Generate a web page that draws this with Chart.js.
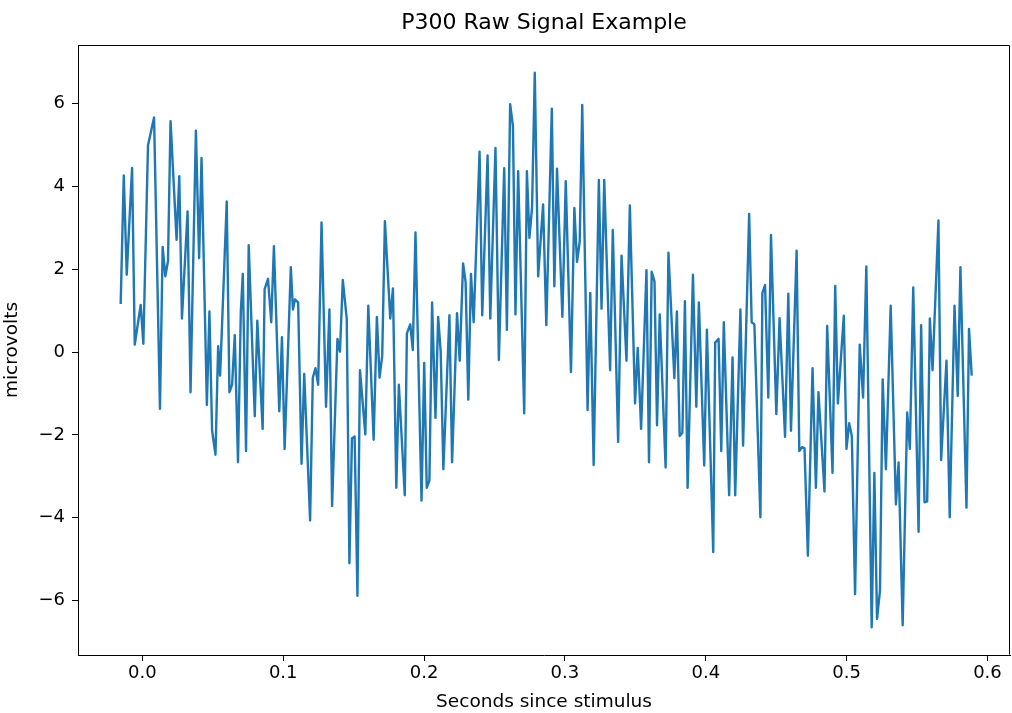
<!DOCTYPE html>
<html>
<head>
<meta charset="utf-8">
<title>P300 Raw Signal Example</title>
<script src="https://cdn.jsdelivr.net/npm/chart.js@4.4.1/dist/chart.umd.min.js"></script>
<style>
  html, body { margin: 0; padding: 0; background: #fff; }
  canvas { display: block; }
</style>
</head>
<body>
<canvas id="p300Chart" width="1012" height="713"></canvas>
<script>
// seconds since stimulus (turning points of the trace)
const times = [
  -0.0154, -0.0132, -0.0111, -0.0073, -0.0054, -0.0012, 0.0007, 0.0040, 0.0083, 0.0125,
  0.0144, 0.0163, 0.0182, 0.0200, 0.0243, 0.0262, 0.0281, 0.0321, 0.0342, 0.0380,
  0.0403, 0.0420, 0.0458, 0.0476, 0.0495, 0.0519, 0.0538, 0.0552, 0.0599, 0.0618,
  0.0637, 0.0656, 0.0679, 0.0699, 0.0713, 0.0736, 0.0755, 0.0798, 0.0816, 0.0854,
  0.0868, 0.0892, 0.0915, 0.0934, 0.0972, 0.0991, 0.1010, 0.1054, 0.1069, 0.1083,
  0.1106, 0.1130, 0.1149, 0.1191, 0.1210, 0.1229, 0.1248, 0.1272, 0.1304, 0.1328,
  0.1347, 0.1385, 0.1403, 0.1423, 0.1451, 0.1470, 0.1488, 0.1507, 0.1527, 0.1545,
  0.1583, 0.1604, 0.1642, 0.1665, 0.1684, 0.1703, 0.1722, 0.1760, 0.1779, 0.1803,
  0.1821, 0.1863, 0.1878, 0.1902, 0.1920, 0.1939, 0.1982, 0.2001, 0.2019, 0.2038,
  0.2057, 0.2081, 0.2100, 0.2118, 0.2137, 0.2180, 0.2199, 0.2234, 0.2253, 0.2277,
  0.2295, 0.2314, 0.2333, 0.2352, 0.2394, 0.2413, 0.2451, 0.2470, 0.2507, 0.2531,
  0.2569, 0.2588, 0.2611, 0.2631, 0.2649, 0.2668, 0.2711, 0.2730, 0.2748, 0.2767,
  0.2786, 0.2810, 0.2845, 0.2868, 0.2907, 0.2925, 0.2944, 0.2982, 0.3006, 0.3043,
  0.3067, 0.3086, 0.3105, 0.3123, 0.3161, 0.3180, 0.3204, 0.3241, 0.3260, 0.3279,
  0.3321, 0.3340, 0.3378, 0.3402, 0.3437, 0.3461, 0.3498, 0.3517, 0.3541, 0.3579,
  0.3597, 0.3616, 0.3636, 0.3654, 0.3673, 0.3715, 0.3735, 0.3777, 0.3795, 0.3815,
  0.3834, 0.3852, 0.3871, 0.3909, 0.3933, 0.3951, 0.3989, 0.4008, 0.4053, 0.4067,
  0.4091, 0.4110, 0.4128, 0.4166, 0.4190, 0.4209, 0.4246, 0.4265, 0.4308, 0.4326,
  0.4345, 0.4388, 0.4402, 0.4421, 0.4444, 0.4463, 0.4501, 0.4524, 0.4563, 0.4586,
  0.4605, 0.4645, 0.4664, 0.4683, 0.4701, 0.4725, 0.4758, 0.4782, 0.4800, 0.4843,
  0.4862, 0.4900, 0.4919, 0.4938, 0.4980, 0.4999, 0.5018, 0.5037, 0.5060, 0.5093,
  0.5117, 0.5140, 0.5178, 0.5197, 0.5216, 0.5237, 0.5256, 0.5279, 0.5313, 0.5350,
  0.5369, 0.5398, 0.5430, 0.5449, 0.5473, 0.5511, 0.5529, 0.5553, 0.5572, 0.5591,
  0.5610, 0.5652, 0.5671, 0.5709, 0.5732, 0.5766, 0.5789, 0.5808, 0.5851, 0.5869,
  0.5888
];

const microvolts = [
  1.16, 4.27, 1.87, 4.45, 0.18, 1.14, 0.20, 5.00, 5.67, -1.37,
  2.54, 1.83, 2.20, 5.58, 2.71, 4.25, 0.81, 3.40, -0.97, 5.35,
  2.27, 4.69, -1.28, 0.98, -1.90, -2.48, 0.14, -0.57, 3.64, -0.97,
  -0.79, 0.41, -2.66, 0.98, 1.89, -2.39, 2.58, -1.55, 0.76, -1.86,
  1.52, 1.77, 0.72, 2.56, -1.43, 0.36, -2.34, 2.05, 1.03, 1.27,
  1.20, -2.70, -0.53, -4.07, -0.62, -0.39, -0.79, 3.13, -1.32, 1.03,
  -3.72, 0.32, 0.01, 1.74, 0.81, -5.10, -2.08, -2.04, -5.89, -0.44,
  -1.99, 1.12, -2.12, 0.85, -0.62, -0.08, 3.16, 0.81, 1.54, -3.28,
  -0.79, -3.46, 0.45, 0.67, 0.05, 2.89, -3.59, -0.26, -3.28, -3.10,
  1.20, -1.59, 0.85, 0.01, -2.83, 0.89, -2.66, 0.94, -0.21, 2.14,
  1.69, -1.15, 1.89, 0.72, 4.84, 0.89, 4.75, 0.81, 4.93, -0.19,
  4.44, 0.54, 5.99, 5.46, 0.91, 4.37, -1.48, 4.37, 2.76, 3.51,
  6.75, 1.83, 3.57, 0.65, 5.88, 1.59, 4.43, 0.85, 4.13, -0.48,
  3.48, 2.18, 2.67, 5.97, -1.40, 1.43, -2.73, 4.16, 1.05, 4.16,
  -0.44, 2.95, -2.17, 2.33, -0.21, 3.54, -1.24, 0.10, -1.86, 1.98,
  -2.66, 1.94, 1.71, -1.77, 0.91, -2.79, 2.40, -0.63, 0.98, -2.03,
  -1.95, 1.23, -3.28, 1.87, -1.32, 1.20, -2.74, 0.54, -4.83, 0.23,
  0.32, -2.39, 0.72, -3.46, -0.13, -3.46, 1.03, -2.26, 3.34, 0.72,
  0.67, -3.99, 1.43, 1.62, -1.10, 2.83, -1.50, 0.82, -2.05, 1.41,
  -1.90, 2.45, -2.39, -2.30, -2.32, -4.92, -0.39, -3.28, -0.97, -3.37,
  0.63, -2.92, 1.60, -1.24, 0.88, -2.34, -1.72, -2.03, -5.85, 0.18,
  -1.10, 2.07, -6.65, -2.92, -6.45, -5.76, -0.66, -2.83, 1.12, -3.68,
  -2.67, -6.60, -1.46, -2.34, 1.56, -4.34, 0.65, -3.63, -3.61, 0.81,
  -0.44, 3.18, -2.61, -0.21, -3.99, 1.12, -1.06, 2.05, -3.76, 0.56,
  -0.57
];

const xTicks = [0.0, 0.1, 0.2, 0.3, 0.4, 0.5, 0.6];
const yTicks = [-6, -4, -2, 0, 2, 4, 6];

const xRange = [-0.0457, 0.616];
const yRange = [-7.32, 7.42];

Chart.defaults.font.family = "'DejaVu Sans', 'Liberation Sans', sans-serif";
Chart.defaults.color = "#000";

// top and right spines, the library only draws the left/bottom borders
const axesFrame = {
  id: "axesFrame",
  afterDraw(chart) {
    const { ctx, chartArea: a } = chart;
    const l = Math.round(a.left) + 0.5, r = Math.round(a.right) - 0.5;
    const t = Math.round(a.top) + 0.5, b = Math.round(a.bottom) - 0.5;
    ctx.save();
    ctx.strokeStyle = "#000";
    ctx.lineWidth = 1;
    ctx.beginPath();
    ctx.moveTo(l, t);
    ctx.lineTo(r, t);
    ctx.lineTo(r, b);
    ctx.stroke();
    ctx.restore();
  },
};

const fmtMinus = (v) => (v < 0 ? "\u2212" + Math.abs(v) : String(v));

new Chart(document.getElementById("p300Chart"), {
  type: "line",
  data: {
    datasets: [
      {
        label: "raw signal",
        data: times.map((t, i) => ({ x: t, y: microvolts[i] })),
        borderColor: "#1f77b4",
        borderWidth: 2.4,
        pointRadius: 0,
        tension: 0,
        fill: false,
        borderJoinStyle: "round",
      },
    ],
  },
  options: {
    responsive: false,
    animation: false,
    devicePixelRatio: 1,
    layout: { padding: { left: 0, right: 2, top: 0, bottom: 0 } },
    plugins: {
      legend: { display: false },
      tooltip: { enabled: false },
      title: { display: false },
    },
    scales: {
      // empty top axis only carries the title, so it is centred over the axes
      top: {
        type: "linear",
        position: "top",
        min: xRange[0],
        max: xRange[1],
        afterBuildTicks: (s) => { s.ticks = []; },
        afterFit: (s) => { s.height = 45; },
        ticks: { display: false },
        grid: { display: false },
        border: { display: false },
        title: {
          display: true,
          text: "P300 Raw Signal Example",
          font: { size: 22 },
          color: "#000",
          padding: { top: 10.5, bottom: 0 },
        },
      },
      x: {
        type: "linear",
        position: "bottom",
        min: xRange[0],
        max: xRange[1],
        afterBuildTicks: (s) => { s.ticks = xTicks.map((v) => ({ value: v })); },
        afterFit: (s) => { s.height = 58; },
        ticks: {
          font: { size: 18 },
          color: "#000",
          padding: 2,
          maxRotation: 0,
          callback: (v) => Number(v).toFixed(1),
        },
        grid: { drawOnChartArea: false, tickLength: 6, color: "#000" },
        border: { display: true, color: "#000", width: 1 },
        title: {
          display: true,
          text: "Seconds since stimulus",
          font: { size: 18.5 },
          color: "#000",
          padding: { top: 0, bottom: 0 },
        },
      },
      y: {
        type: "linear",
        min: yRange[0],
        max: yRange[1],
        afterBuildTicks: (s) => { s.ticks = yTicks.map((v) => ({ value: v })); },
        afterFit: (s) => { s.width = 78; },
        ticks: {
          font: { size: 18 },
          color: "#000",
          padding: 7,
          callback: (v) => fmtMinus(v),
        },
        grid: { drawOnChartArea: false, tickLength: 6, color: "#000" },
        border: { display: true, color: "#000", width: 1 },
        title: {
          display: true,
          text: "microvolts",
          font: { size: 18.5 },
          color: "#000",
          padding: { top: 1, bottom: 0 },
        },
      },
    },
  },
  plugins: [axesFrame],
});
</script>
</body>
</html>
